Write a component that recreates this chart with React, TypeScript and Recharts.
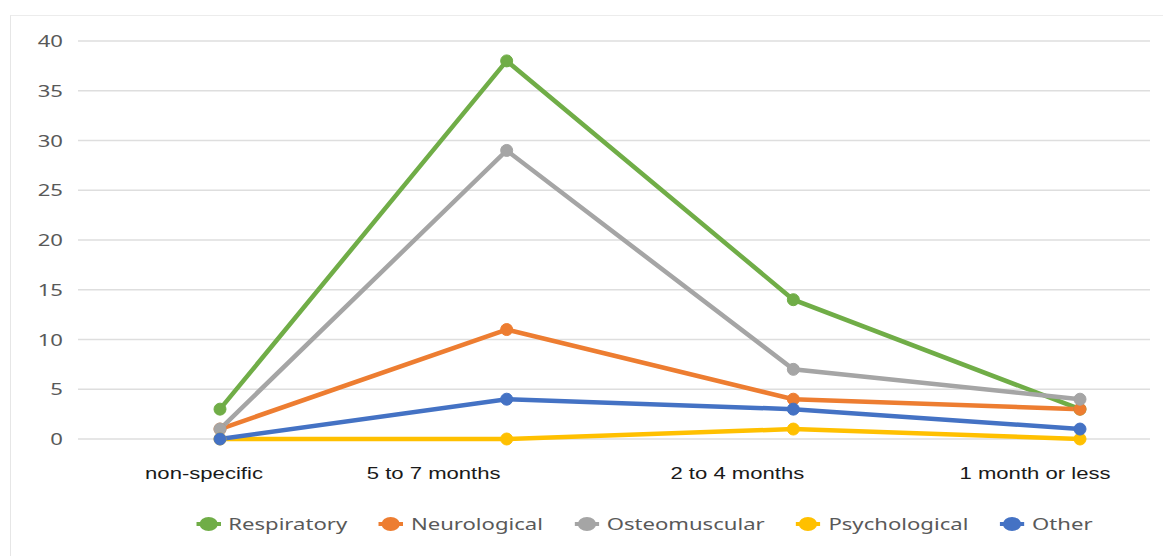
import { CartesianGrid, Line, LineChart, XAxis, YAxis } from "recharts";

const categories = ["non-specific", "5 to 7 months", "2 to 4 months", "1 month or less"];
const respiratory = [3, 38, 14, 3];
const neurological = [1, 11, 4, 3];
const osteomuscular = [1, 29, 7, 4];
const psychological = [0, 0, 1, 0];
const other = [0, 4, 3, 1];
const yTicks = [0, 5, 10, 15, 20, 25, 30, 35, 40];

const series = [
  { key: "Respiratory", values: respiratory, color: "#70AD47" },
  { key: "Neurological", values: neurological, color: "#ED7D31" },
  { key: "Osteomuscular", values: osteomuscular, color: "#A5A5A5" },
  { key: "Psychological", values: psychological, color: "#FFC000" },
  { key: "Other", values: other, color: "#4472C4" },
];

const data = categories.map((name, i) => {
  const row: Record<string, string | number> = { name };
  series.forEach((s) => (row[s.key] = s.values[i]));
  return row;
});

// the original picture is stretched sideways, text included
const STRETCH = 1.3;
// labels in the original sit left of their points by varying amounts
const labelShift = [-16, -73, -56, -45];

function XTick({ x, y, payload, index }: any) {
  return (
    <g transform={`translate(${x + (labelShift[index] ?? 0)},${y}) scale(${STRETCH},1)`}>
      <text
        dy={12}
        textAnchor="middle"
        fill="#1a1a1a"
        fontSize={17}
        fontFamily="'Liberation Sans', sans-serif"
      >
        {payload.value}
      </text>
    </g>
  );
}

function YTick({ x, y, payload }: any) {
  return (
    <g transform={`translate(${x},${y}) scale(${STRETCH},1)`}>
      <text
        dy={6}
        textAnchor="end"
        fill="#595959"
        fontSize={17}
        fontFamily="'Noto Sans', sans-serif"
      >
        {payload.value}
      </text>
    </g>
  );
}

function ChartLegend() {
  return (
    <div
      style={{
        position: "absolute",
        left: 0,
        top: 512,
        width: 1163,
        display: "flex",
        justifyContent: "center",
        transform: `translateX(82px) scaleX(${STRETCH})`,
        transformOrigin: "646px 0",
      }}
    >
      <div
        style={{
          display: "flex",
          gap: 24,
          fontFamily: "'Noto Sans', sans-serif",
          fontSize: 17,
          color: "#595959",
        }}
      >
        {series.map((s) => (
          <div key={s.key} style={{ display: "flex", alignItems: "center", gap: 6 }}>
            <svg width={19} height={16}>
              <line x1={0} y1={8} x2={19} y2={8} stroke={s.color} strokeWidth={4} />
              <circle cx={9.5} cy={8} r={7} fill={s.color} />
            </svg>
            <span>{s.key}</span>
          </div>
        ))}
      </div>
    </div>
  );
}

export default function App() {
  return (
    <div
      style={{
        position: "absolute",
        left: 0,
        top: 0,
        width: 1163,
        height: 556,
        background: "#fff",
        overflow: "hidden",
      }}
    >
      <div
        style={{
          position: "absolute",
          left: 10,
          top: 15,
          width: 1160,
          height: 540,
          borderLeft: "1px solid #e6e6e6",
          borderTop: "1px solid #ececec",
        }}
      />
      <LineChart
        width={1163}
        height={556}
        data={data}
        margin={{ top: 41, right: 13, bottom: 87, left: 0 }}
      >
        <CartesianGrid vertical={false} stroke="#dedede" strokeWidth={1.5} />
        <XAxis
          dataKey="name"
          scale="point"
          height={30}
          padding={{ left: 142, right: 70 }}
          axisLine={false}
          tickLine={false}
          tickMargin={22}
          tick={<XTick />}
          interval={0}
        />
        <YAxis
          width={78}
          domain={[0, 40]}
          ticks={yTicks}
          axisLine={false}
          tickLine={false}
          tickSize={0}
          tickMargin={15}
          tick={<YTick />}
        />
        {series.map((s) => (
          <Line
            key={s.key}
            dataKey={s.key}
            stroke={s.color}
            strokeWidth={4.5}
            dot={{ r: 6, fill: s.color, stroke: s.color, strokeWidth: 1 }}
            activeDot={false}
            isAnimationActive={false}
          />
        ))}
      </LineChart>
      <ChartLegend />
    </div>
  );
}
